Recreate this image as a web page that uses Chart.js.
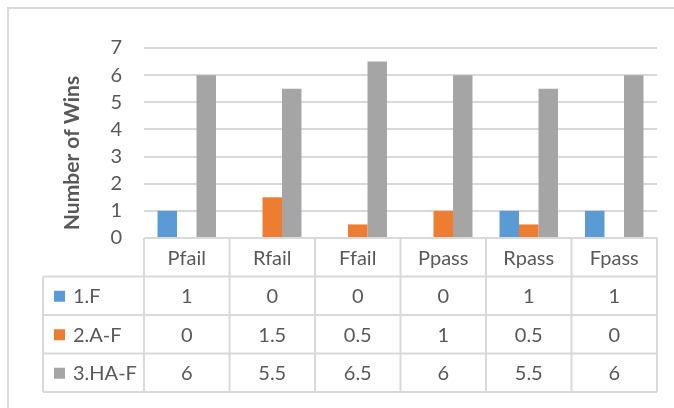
<!DOCTYPE html>
<html>
<head>
<meta charset="utf-8">
<script src="https://cdn.jsdelivr.net/npm/chart.js@4/dist/chart.umd.min.js"></script>
<style>
  html, body { margin: 0; padding: 0; background: #ffffff; }
  canvas { display: block; }
</style>
</head>
<body>
<canvas id="chart" width="674" height="408"></canvas>
<script>
// Categories and series values
const categories = ['Pfail', 'Rfail', 'Ffail', 'Ppass', 'Rpass', 'Fpass'];
const seriesNames = ['1.F', '2.A-F', '3.HA-F'];
const valuesF = [1, 0, 0, 0, 1, 1];
const valuesAF = [0, 1.5, 0.5, 1, 0.5, 0];
const valuesHAF = [6, 5.5, 6.5, 6, 5.5, 6];
const yMin = 0;
const yMax = 7;
const yStep = 1;
const yTitle = 'Number of Wins';

const seriesColors = ['#5b9bd5', '#ed7d31', '#a5a5a5'];
const seriesValues = [valuesF, valuesAF, valuesHAF];
const textColor = '#595959';
const lineColor = '#d9d9d9';
const fontFamily = 'Lato, "Liberation Sans", sans-serif';

// Frame, axis title and the data table below the plot
const tablePlugin = {
  id: 'dataTable',
  beforeDraw(chart) {
    const ctx = chart.ctx;
    ctx.save();
    ctx.fillStyle = '#ffffff';
    ctx.fillRect(0, 0, chart.width, chart.height);
    ctx.strokeStyle = lineColor;
    ctx.lineWidth = 2;
    ctx.beginPath();
    ctx.moveTo(8, chart.height + 5);
    ctx.lineTo(8, 8);
    ctx.lineTo(chart.width + 5, 8);
    ctx.stroke();
    ctx.restore();
  },
  afterDraw(chart) {
    const ctx = chart.ctx;
    const area = chart.chartArea;
    const x = chart.scales.x;
    const rowH = 38.5;
    const legendLeft = 43;
    const top = area.bottom;
    const half = (x.getPixelForValue(1) - x.getPixelForValue(0)) / 2;
    const colEdges = categories.map((c, i) => x.getPixelForValue(i) - half);
    colEdges.push(x.getPixelForValue(categories.length - 1) + half);
    const left = colEdges[0];
    const right = colEdges[colEdges.length - 1];
    const bottom = top + rowH * (seriesNames.length + 1);

    ctx.save();
    ctx.strokeStyle = lineColor;
    ctx.lineWidth = 2;
    ctx.beginPath();
    // horizontal rules
    ctx.moveTo(left, top); ctx.lineTo(right, top);
    for (let r = 1; r <= seriesNames.length + 1; r++) {
      const y = top + rowH * r;
      ctx.moveTo(legendLeft, y); ctx.lineTo(right, y);
    }
    // vertical rules
    colEdges.forEach(cx => { ctx.moveTo(cx, top); ctx.lineTo(cx, bottom); });
    ctx.moveTo(legendLeft, top + rowH); ctx.lineTo(legendLeft, bottom);
    ctx.stroke();

    ctx.fillStyle = textColor;
    ctx.font = '20px ' + fontFamily;
    ctx.textAlign = 'center';
    ctx.textBaseline = 'middle';
    categories.forEach((c, i) => {
      ctx.fillText(c, x.getPixelForValue(i), top + rowH / 2 + 1);
    });
    seriesNames.forEach((name, r) => {
      const cy = top + rowH * (r + 1.5) + 1;
      ctx.fillStyle = seriesColors[r];
      ctx.fillRect(54, cy - 6, 11, 11);
      ctx.fillStyle = textColor;
      ctx.textAlign = 'left';
      ctx.fillText(name, 73, cy);
      ctx.textAlign = 'center';
      seriesValues[r].forEach((v, i) => {
        ctx.fillText(String(v), x.getPixelForValue(i), cy);
      });
    });

    // rotated value-axis title
    ctx.translate(72, 153);
    ctx.rotate(-Math.PI / 2);
    ctx.font = 'bold 21px ' + fontFamily;
    ctx.textAlign = 'center';
    ctx.fillText(yTitle, 0, 0);
    ctx.restore();
  }
};

new Chart(document.getElementById('chart'), {
  type: 'bar',
  data: {
    labels: categories,
    datasets: seriesNames.map((name, i) => ({
      label: name,
      data: seriesValues[i],
      backgroundColor: seriesColors[i],
      borderWidth: 0,
      categoryPercentage: 0.684,
      barPercentage: 1
    }))
  },
  options: {
    responsive: false,
    animation: false,
    devicePixelRatio: 1,
    layout: { padding: { left: 0, top: 48, right: 17, bottom: 170 } },
    plugins: { legend: { display: false }, tooltip: { enabled: false } },
    scales: {
      x: { display: false },
      y: {
        min: yMin,
        max: yMax,
        afterFit(scale) { scale.width = 144; },
        border: { display: false },
        grid: { color: lineColor, lineWidth: 2, drawTicks: false },
        ticks: {
          stepSize: yStep,
          padding: 22,
          color: textColor,
          font: { family: fontFamily, size: 20 }
        }
      }
    }
  },
  plugins: [tablePlugin]
});
</script>
</body>
</html>
